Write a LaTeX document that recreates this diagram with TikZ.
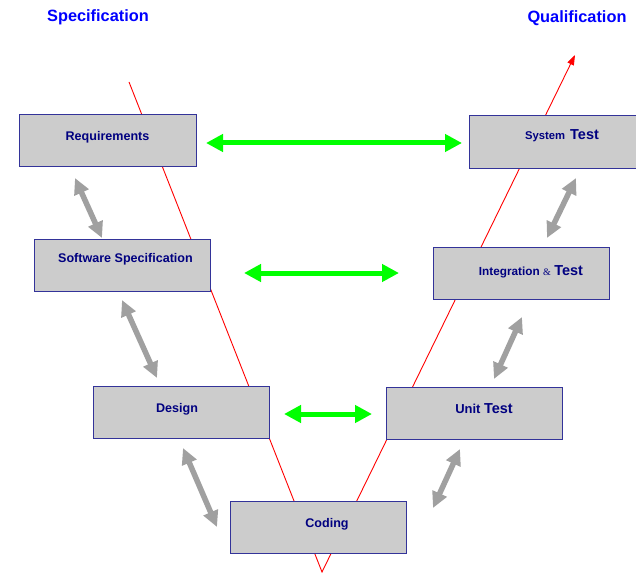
\documentclass[tikz,border=0pt]{standalone}
\usepackage{fontspec}
\setmainfont{Liberation Sans}
\newfontfamily\ampfont{Liberation Serif}
\usetikzlibrary{arrows.meta}

\definecolor{boxfill}{RGB}{204,204,204}
\definecolor{boxline}{RGB}{51,51,153}
\definecolor{navytext}{RGB}{0,0,128}
\definecolor{titleblue}{RGB}{0,0,255}
\definecolor{linkgreen}{RGB}{0,255,0}
\definecolor{linkgray}{RGB}{160,160,160}
\definecolor{vred}{RGB}{255,0,0}

\newcommand{\lblfont}{\fontsize{12.6}{14}\selectfont\bfseries}
\newcommand{\testword}{{\fontsize{14.5}{16}\selectfont\bfseries Test}}

\tikzset{
  phase/.style={draw=boxline, fill=boxfill, line width=1bp,
    minimum width=176bp, minimum height=52bp, inner sep=0pt},
  lbl/.style={text=navytext, font=\lblfont, inner sep=0pt,
    text height=9bp, text depth=0pt, anchor=center},
  title/.style={text=titleblue, font=\fontsize{16.4}{18}\selectfont\bfseries,
    inner sep=0pt, text height=11.5bp, text depth=0pt},
  vline/.style={draw=vred, line width=0.9bp},
  trace/.style={draw=linkgreen, fill=linkgreen, line width=5bp,
    {Triangle[length=17bp,width=17bp]}-{Triangle[length=17bp,width=17bp]}},
  refine/.style={draw=linkgray, fill=linkgray, line width=5.5bp,
    {Triangle[length=16bp,width=15bp]}-{Triangle[length=16bp,width=15bp]}}
}

\begin{document}
\begin{tikzpicture}[x=1bp,y=-1bp]
\clip (0,0) rectangle (636,573);
\fill[white] (0,0) rectangle (636,573);

% titles
\node[title] (spec) at (98,16) {Specification};
\node[title] (qual) at (577,17) {Qualification};

% the V line
\coordinate (vtop) at (129,82);
\coordinate (vbot) at (322,572);
\coordinate (vend) at (575,55);
\draw[vline, -{Triangle[length=10bp,width=7bp]}] (vtop) -- (vbot) -- (vend);

% phase boxes
\node[phase] (req)  at (108,140.5) {};
\node[phase] (sws)  at (122.5,265) {};
\node[phase] (des)  at (181,412)   {};
\node[phase] (cod)  at (318.5,527) {};
\node[phase] (unit) at (474,413)   {};
\node[phase] (intg) at (521,273)   {};
\node[phase] (sys)  at (557,142)   {};

% box labels
\node[lbl] (reqt)  at (107.5,136) {Requirements};
\node[lbl] (swst)  at (125.5,258) {Software Specification};
\node[lbl] (dest)  at (177,408)   {Design};
\node[lbl] (codt)  at (327,523)   {Coding};
\node[lbl] (unitt) at (484,409)   {{\fontsize{13}{14}\selectfont Unit} \testword};
\node[lbl] (intgt) at (531,271)   {{\fontsize{11.8}{14}\selectfont Integration}~{\ampfont\mdseries\fontsize{10}{12}\selectfont\&}~\testword};
\node[lbl] (syst)  at (562,135)   {{\fontsize{11.3}{14}\selectfont System}\hspace{5bp}\testword};

% traceability links between matching levels
\coordinate (t1a) at (206,143); \coordinate (t1b) at (462,143);
\coordinate (t2a) at (244,273); \coordinate (t2b) at (399,273);
\coordinate (t3a) at (284,414); \coordinate (t3b) at (372,414);
\draw[trace] (t1a) -- (t1b);
\draw[trace] (t2a) -- (t2b);
\draw[trace] (t3a) -- (t3b);

% refinement links between adjacent levels
\coordinate (r1a) at (75,178);  \coordinate (r1b) at (102,238);
\coordinate (r2a) at (122,300); \coordinate (r2b) at (157,378);
\coordinate (r3a) at (183,448); \coordinate (r3b) at (217,527);
\coordinate (r4a) at (433,508); \coordinate (r4b) at (460,449);
\coordinate (r5a) at (494,379); \coordinate (r5b) at (522,317);
\coordinate (r6a) at (547,238); \coordinate (r6b) at (576,178);
\draw[refine] (r1a) -- (r1b);
\draw[refine] (r2a) -- (r2b);
\draw[refine] (r3a) -- (r3b);
\draw[refine] (r4a) -- (r4b);
\draw[refine] (r5a) -- (r5b);
\draw[refine] (r6a) -- (r6b);
\end{tikzpicture}
\end{document}
